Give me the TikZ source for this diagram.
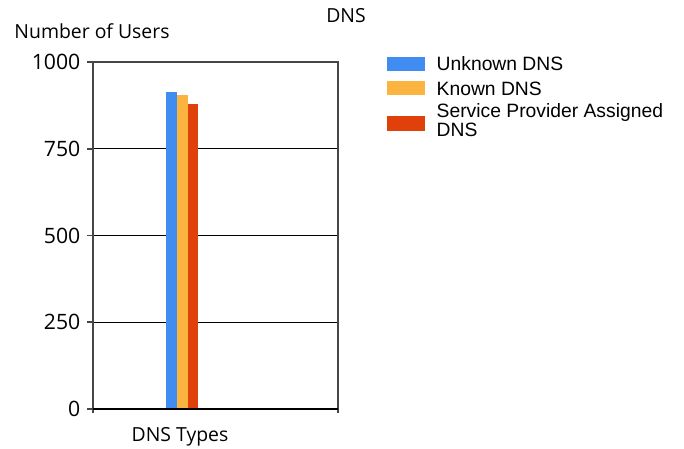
\documentclass[tikz,border=0pt]{standalone}
\usepackage{fontspec}
\setmainfont{Open Sans}
\newfontfamily\legendfont{Liberation Sans}
\definecolor{unknownblue}{RGB}{65,140,240}
\definecolor{knownorange}{RGB}{252,180,65}
\definecolor{providerred}{RGB}{224,64,10}
\definecolor{framegray}{RGB}{70,70,70}
\tikzset{
  gridline/.style={line width=1.3pt, black},
  axisline/.style={line width=1.6pt, framegray},
  ticklabel/.style={anchor=base east, inner sep=0pt, font=\fontsize{21.2}{25}\selectfont},
  axistitle/.style={anchor=base, inner sep=0pt, font=\fontsize{19.4}{23}\selectfont},
  legendtext/.style={anchor=base west, inner sep=0pt, align=left,
    font=\legendfont\fontsize{19.3}{19}\selectfont},
}
\begin{document}
\begin{tikzpicture}[x=1pt,y=-1pt]
  \useasboundingbox[fill=white] (0,0) rectangle (684,448);
  % titles
  \node[axistitle] (title) at (346,22.7) {DNS};
  \node[axistitle] (ytitle) at (92,38.3) {Number of Users};
  \node[axistitle] (xtitle) at (180,441.7) {DNS Types};
  % grid and value axis
  \foreach \v/\y in {0/409,250/322.25,500/235.5,750/148.75,1000/62} {
    \draw[gridline] (93,\y) -- (338,\y);
    \draw[axisline] (87,\y) -- (93,\y);
    \node[ticklabel] (tick\v) at (80.5,\y+7.5) {\v};
  }
  \draw[axisline] (93,62) -- (338,62) -- (338,413);
  \draw[axisline] (93,62) -- (93,413);
  % bars
  \fill[unknownblue] (166,409) rectangle (176.7,92);
  \fill[knownorange] (176.7,409) rectangle (187.7,95.3);
  \fill[providerred] (187.7,409) rectangle (198.3,104);
  \draw[gridline] (93,409) -- (338,409);
  % legend
  \fill[unknownblue] (387,56.7) rectangle (425,70.7);
  \fill[knownorange] (387,80.5) rectangle (425,95);
  \fill[providerred] (387,116) rectangle (425,130.7);
  \node[legendtext] (leg1) at (436.5,70.7) {Unknown DNS};
  \node[legendtext] (leg2) at (436.5,95) {Known DNS};
  \node[legendtext] (leg3) at (436.5,136.7) {Service Provider Assigned\\DNS};
\end{tikzpicture}
\end{document}
